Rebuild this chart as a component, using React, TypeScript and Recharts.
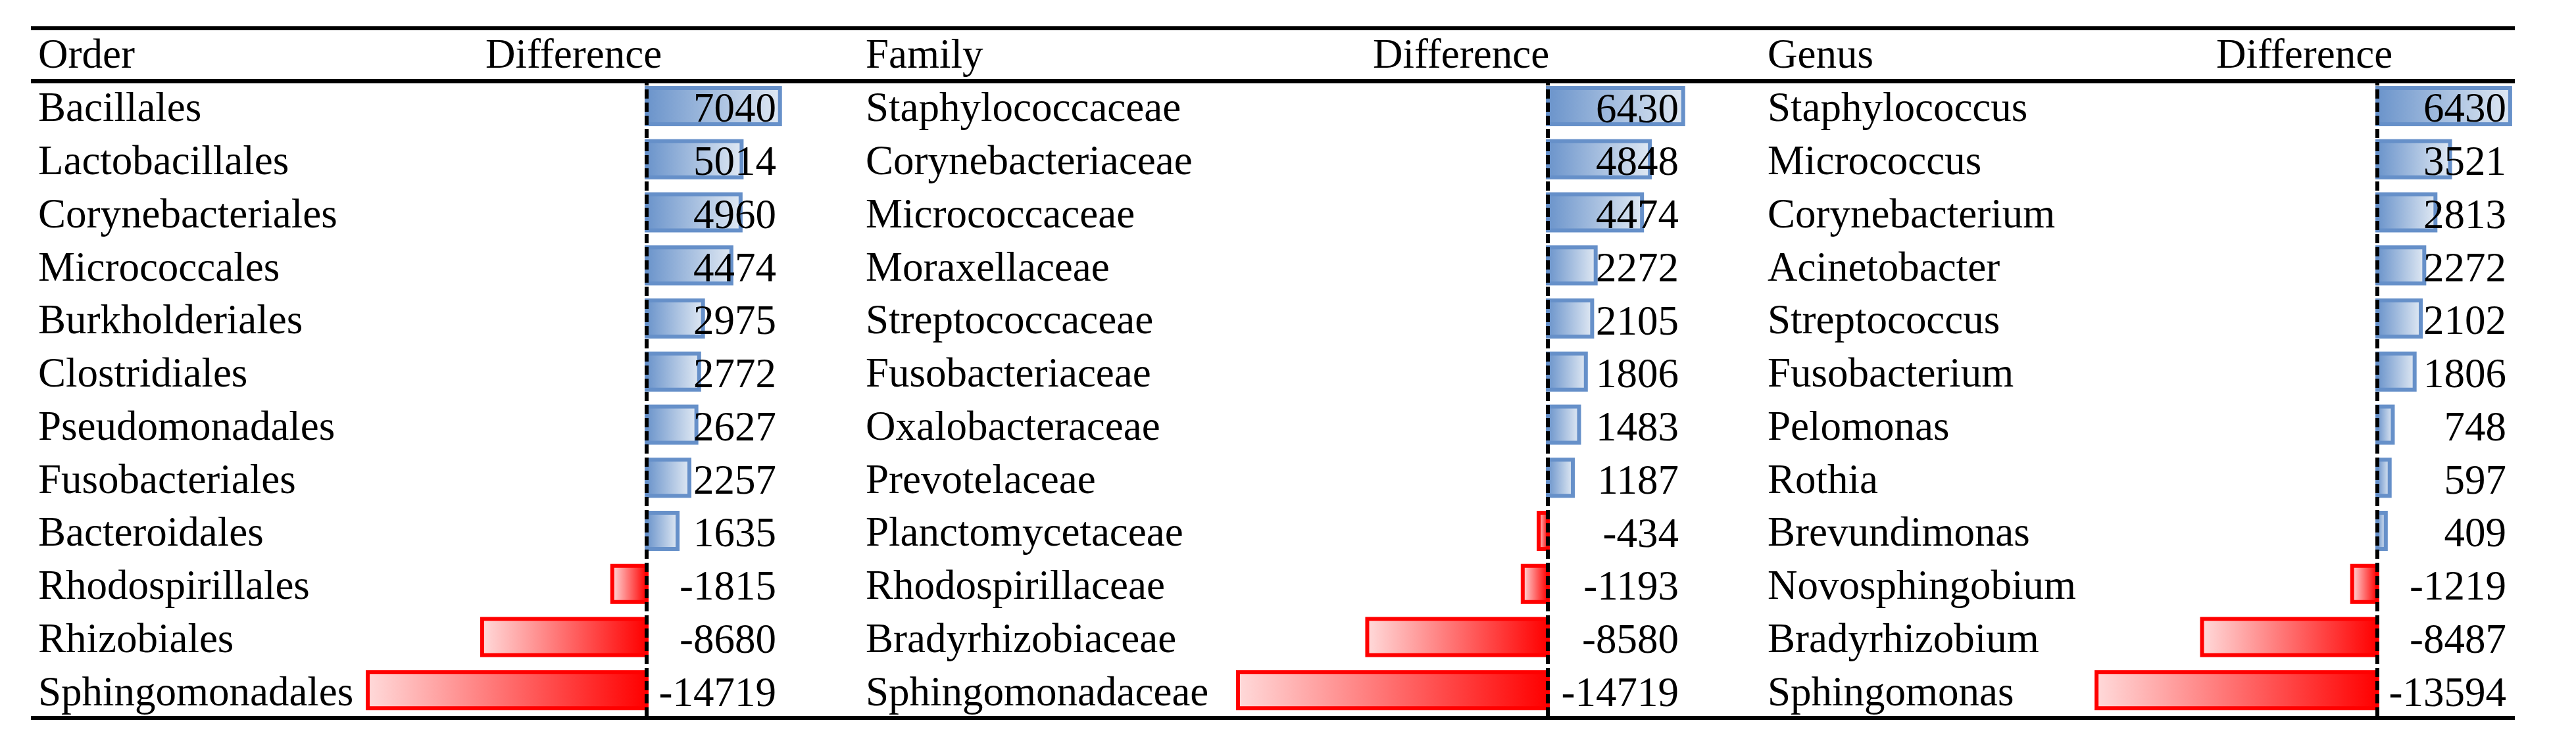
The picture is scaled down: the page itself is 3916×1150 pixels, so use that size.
import React from 'react';
import { BarChart, Bar, XAxis, YAxis, Cell, LabelList, ReferenceLine } from 'recharts';

// ---------- data ----------
const ORDER_NAMES = [
  'Bacillales', 'Lactobacillales', 'Corynebacteriales', 'Micrococcales', 'Burkholderiales',
  'Clostridiales', 'Pseudomonadales', 'Fusobacteriales', 'Bacteroidales', 'Rhodospirillales',
  'Rhizobiales', 'Sphingomonadales',
];
const ORDER_VALUES = [7040, 5014, 4960, 4474, 2975, 2772, 2627, 2257, 1635, -1815, -8680, -14719];

const FAMILY_NAMES = [
  'Staphylococcaceae', 'Corynebacteriaceae', 'Micrococcaceae', 'Moraxellaceae', 'Streptococcaceae',
  'Fusobacteriaceae', 'Oxalobacteraceae', 'Prevotelaceae', 'Planctomycetaceae', 'Rhodospirillaceae',
  'Bradyrhizobiaceae', 'Sphingomonadaceae',
];
const FAMILY_VALUES = [6430, 4848, 4474, 2272, 2105, 1806, 1483, 1187, -434, -1193, -8580, -14719];

const GENUS_NAMES = [
  'Staphylococcus', 'Micrococcus', 'Corynebacterium', 'Acinetobacter', 'Streptococcus',
  'Fusobacterium', 'Pelomonas', 'Rothia', 'Brevundimonas', 'Novosphingobium',
  'Bradyrhizobium', 'Sphingomonas',
];
const GENUS_VALUES = [6430, 3521, 2813, 2272, 2102, 1806, 748, 597, 409, -1219, -8487, -13594];

const HEADERS = ['Order', 'Family', 'Genus'];
const DIFF_HEADER = 'Difference';

// ---------- layout / style ----------
const W = 3916;
const H = 1150;
const FONT = '"Liberation Serif", "Times New Roman", serif';
const FS = 63;
const PLOT_TOP = 121;
const PLOT_BOTTOM = 1090;
const DOMAIN_MIN = -16000;
const DOMAIN_MAX = 8000;
const RULE_LEFT = 47;
const RULE_RIGHT = 3823;
const POS_STROKE = '#6690C9';
const NEG_STROKE = '#FF0000';

type PanelCfg = {
  left: number; // page x of chart container
  zero: number; // page x of value 0
  k: number; // px per unit
  labelX: number; // page x of category labels
  valueRight: number; // page x of right edge of value labels
  diffX: number; // page x of "Difference" header
};

const PANELS: PanelCfg[] = [
  { left: 30, zero: 983, k: 0.0288, labelX: 58, valueRight: 1180, diffX: 738 },
  { left: 1290, zero: 2353, k: 0.032, labelX: 1316, valueRight: 2552, diffX: 2087 },
  { left: 2660, zero: 3614, k: 0.0314, labelX: 2687, valueRight: 3810, diffX: 3369 },
];

function Panel({ names, values, cfg }: { names: string[]; values: number[]; cfg: PanelCfg }) {
  const data = names.map((name, i) => ({ name, value: values[i] }));
  const plotLeft = cfg.zero + DOMAIN_MIN * cfg.k;
  const plotRight = cfg.zero + DOMAIN_MAX * cfg.k;
  const yAxisWidth = plotLeft - cfg.left;
  const width = plotRight - cfg.left;
  const labelX = cfg.labelX - cfg.left;
  const valueX = cfg.valueRight - cfg.left;

  const renderTick = (props: any) => (
    <text
      x={labelX}
      y={Number(props.y) + 23}
      textAnchor="start"
      fontFamily={FONT}
      fontSize={FS}
      fill="#000"
    >
      {props.payload.value}
    </text>
  );

  const renderValue = (p: any) => (
    <text
      x={valueX}
      y={Number(p.y) + Number(p.height) / 2 + 24}
      textAnchor="end"
      fontFamily={FONT}
      fontSize={FS}
      fill="#000"
    >
      {p.value}
    </text>
  );

  return (
    <div style={{ position: 'absolute', left: cfg.left, top: 0, width, height: H }}>
      <BarChart
        width={width}
        height={H}
        data={data}
        layout="vertical"
        margin={{ top: PLOT_TOP, bottom: H - PLOT_BOTTOM, left: 0, right: 0 }}
        barSize={55}
      >
        <XAxis type="number" domain={[DOMAIN_MIN, DOMAIN_MAX]} hide allowDataOverflow />
        <YAxis
          type="category"
          dataKey="name"
          width={yAxisWidth}
          axisLine={false}
          tickLine={false}
          interval={0}
          tick={renderTick}
        />
        <Bar dataKey="value" strokeWidth={6} isAnimationActive={false}>
          {data.map((d, i) => (
            <Cell
              key={i}
              fill={d.value >= 0 ? 'url(#gradPos)' : 'url(#gradNeg)'}
              stroke={d.value >= 0 ? POS_STROKE : NEG_STROKE}
            />
          ))}
          <LabelList dataKey="value" content={renderValue} />
        </Bar>
        <ReferenceLine x={0} stroke="#000" strokeWidth={6} strokeDasharray="14 6" />
      </BarChart>
    </div>
  );
}

export default function App() {
  const sets = [
    { names: ORDER_NAMES, values: ORDER_VALUES },
    { names: FAMILY_NAMES, values: FAMILY_VALUES },
    { names: GENUS_NAMES, values: GENUS_VALUES },
  ];
  return (
    <div style={{ position: 'absolute', left: 0, top: 0, width: W, height: H, background: '#fff' }}>
      <svg width={0} height={0} style={{ position: 'absolute' }}>
        <defs>
          <linearGradient id="gradPos" x1="0" y1="0" x2="1" y2="0">
            <stop offset="0%" stopColor="#6B94CB" />
            <stop offset="100%" stopColor="#DFE8F3" />
          </linearGradient>
          <linearGradient id="gradNeg" x1="0" y1="0" x2="1" y2="0">
            <stop offset="0%" stopColor="#FFDADA" />
            <stop offset="100%" stopColor="#FF0000" />
          </linearGradient>
        </defs>
      </svg>
      {sets.map((s, i) => (
        <Panel key={i} names={s.names} values={s.values} cfg={PANELS[i]} />
      ))}
      <svg
        width={W}
        height={H}
        style={{ position: 'absolute', left: 0, top: 0, pointerEvents: 'none' }}
      >
        <rect x={RULE_LEFT} y={40} width={RULE_RIGHT - RULE_LEFT} height={6} fill="#000" />
        <rect x={RULE_LEFT} y={120} width={RULE_RIGHT - RULE_LEFT} height={6.5} fill="#000" />
        <rect x={RULE_LEFT} y={1089} width={RULE_RIGHT - RULE_LEFT} height={6} fill="#000" />
        {PANELS.map((p, i) => (
          <g key={i} fontFamily={FONT} fontSize={FS} fill="#000">
            <text x={p.labelX} y={103}>{HEADERS[i]}</text>
            <text x={p.diffX} y={103}>{DIFF_HEADER}</text>
          </g>
        ))}
      </svg>
    </div>
  );
}
